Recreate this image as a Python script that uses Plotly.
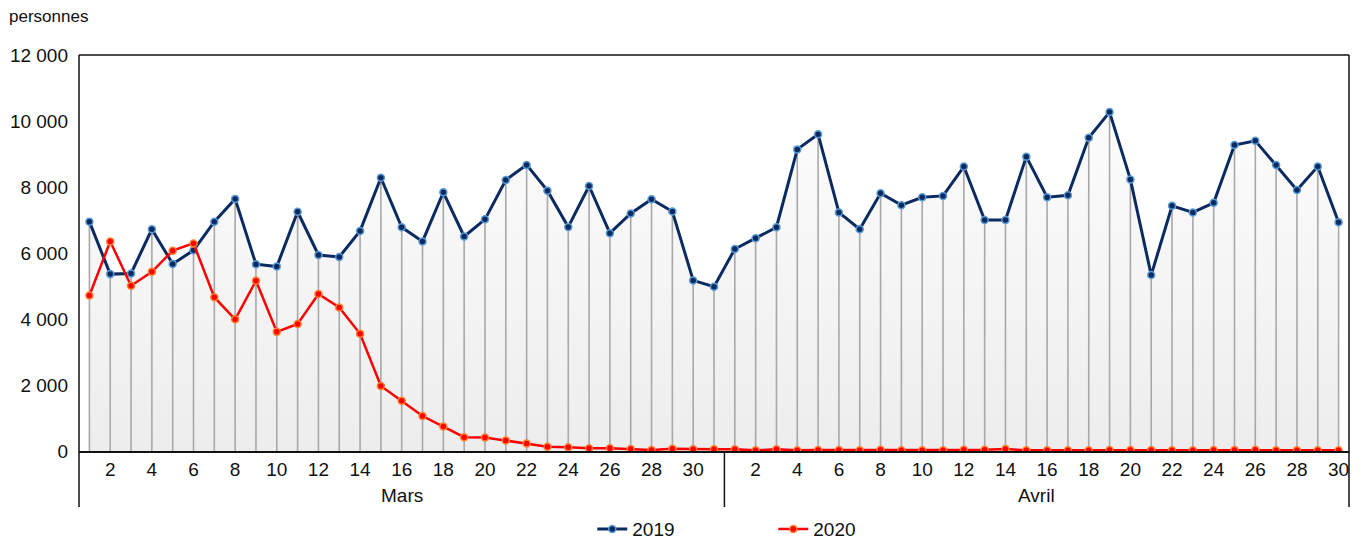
import plotly.graph_objects as go

# ---- data ----
mois = ["Mars", "Avril"]
jours_mars = list(range(1, 32))
jours_avril = list(range(1, 31))

v2019_mars = [6950, 5360, 5380, 6720, 5670, 6080, 6950, 7640, 5660, 5590,
              7250, 5940, 5880, 6670, 8280, 6780, 6350, 7840, 6500, 7020,
              8210, 8670, 7890, 6790, 8030, 6600, 7200, 7630, 7260, 5170, 4980]
v2019_avril = [6120, 6450, 6780, 9140, 9600, 7230, 6720, 7810, 7450, 7690,
               7730, 8620, 7000, 7000, 8920, 7690, 7750, 9490, 10270, 8230,
               5330, 7430, 7230, 7520, 9270, 9400, 8670, 7910, 8620, 6930]

v2020_mars = [4710, 6350, 5010, 5430, 6070, 6290, 4660, 3990, 5160, 3610,
              3850, 4760, 4350, 3550, 1970, 1520, 1060, 740, 420, 410,
              320, 230, 130, 110, 80, 80, 60, 30, 70, 50, 50]
v2020_avril = [50, 20, 50, 20, 30, 30, 20, 40, 20, 20,
               20, 40, 40, 60, 20, 20, 20, 20, 30, 30,
               30, 20, 20, 30, 30, 40, 20, 20, 20, 20]

y_ticks = [0, 2000, 4000, 6000, 8000, 10000, 12000]

# ---- derived ----
jours = jours_mars + jours_avril
x = list(range(1, len(jours) + 1))
v2019 = v2019_mars + v2019_avril
v2020 = v2020_mars + v2020_avril
tickvals = [i for i, d in zip(x, jours) if d % 2 == 0]
ticktext = [str(d) for d in jours if d % 2 == 0]
n_mars = len(jours_mars)
n_tot = len(jours)

FONT = "Liberation Sans, Arial, sans-serif"
NAVY = "#0b2a60"
RED = "#ff0000"

fig = go.Figure()

# area + drop lines for 2019
fig.add_trace(go.Scatter(
    x=x, y=v2019, mode="lines", line=dict(width=0, color=NAVY),
    fill="tozeroy",
    fillgradient=dict(type="vertical", start=0, stop=12000,
                      colorscale=[[0, "#ededed"], [1, "#ffffff"]]),
    error_y=dict(type="data", symmetric=False, array=[0] * n_tot,
                 arrayminus=v2019, width=0, color="#a8a8a8", thickness=1.6),
    showlegend=False, hoverinfo="skip"))

fig.add_trace(go.Scatter(
    x=x, y=v2019, mode="lines+markers", name="2019",
    line=dict(color=NAVY, width=3),
    marker=dict(size=7, color=NAVY, line=dict(color="#5b9bd5", width=1.5))))

fig.add_trace(go.Scatter(
    x=x, y=v2020, mode="lines+markers", name="2020",
    line=dict(color=RED, width=2.5),
    marker=dict(size=7, color=RED, line=dict(color="#ff8030", width=1.5))))

H = 396.0
below = -56 / H
line_style = dict(color="#111111", width=1.5)
shapes = [
    dict(type="line", xref="paper", yref="paper", x0=0, x1=0, y0=below, y1=1, line=line_style),
    dict(type="line", xref="paper", yref="paper", x0=1, x1=1, y0=below, y1=1, line=line_style),
    dict(type="line", xref="paper", yref="paper", x0=0, x1=1, y0=1, y1=1, line=line_style),
    dict(type="line", xref="x", yref="paper", x0=n_mars + 0.5, x1=n_mars + 0.5,
         y0=below, y1=0, line=line_style),
]

annotations = [
    dict(text="personnes", xref="paper", yref="paper", x=(7 - 79) / 1270, y=(451 - 17) / H,
         xanchor="left", yanchor="middle", showarrow=False,
         font=dict(family=FONT, size=17, color="#111")),
    dict(text=mois[0], xref="x", yref="paper", x=(0.5 + n_mars + 0.5) / 2, y=(451 - 495) / H,
         xanchor="center", yanchor="middle", showarrow=False,
         font=dict(family=FONT, size=19, color="#111")),
    dict(text=mois[1], xref="x", yref="paper", x=(n_mars + 0.5 + n_tot + 0.5) / 2, y=(451 - 495) / H,
         xanchor="center", yanchor="middle", showarrow=False,
         font=dict(family=FONT, size=19, color="#111")),
]

fig.update_layout(
    width=1359, height=541,
    margin=dict(l=79, r=10, t=55, b=90),
    paper_bgcolor="white", plot_bgcolor="white",
    separators=", ",
    font=dict(family=FONT, size=19, color="#111"),
    shapes=shapes, annotations=annotations,
    legend=dict(orientation="h", xref="container", yref="container",
                x=0.569, y=0.022, xanchor="center", yanchor="middle",
                entrywidth=136, entrywidthmode="pixels",
                font=dict(family=FONT, size=19, color="#111")),
    xaxis=dict(range=[0.5, n_tot + 0.5], tickmode="array", tickvals=tickvals,
               ticktext=ticktext, showgrid=False, zeroline=False,
               showline=True, linecolor="#111111", linewidth=1.5,
               layer="below traces", ticks="", ticklabelstandoff=0,
               tickfont=dict(family=FONT, size=19)),
    yaxis=dict(range=[0, 12000], tickmode="array", tickvals=y_ticks,
               tickformat=",d", showgrid=False, zeroline=False, showline=False,
               ticks="", ticklabelstandoff=10,
               tickfont=dict(family=FONT, size=19)),
)

fig.write_html("out.html", config={"displayModeBar": False},
               post_script="document.body.style.margin='0';document.body.style.overflow='hidden';")
